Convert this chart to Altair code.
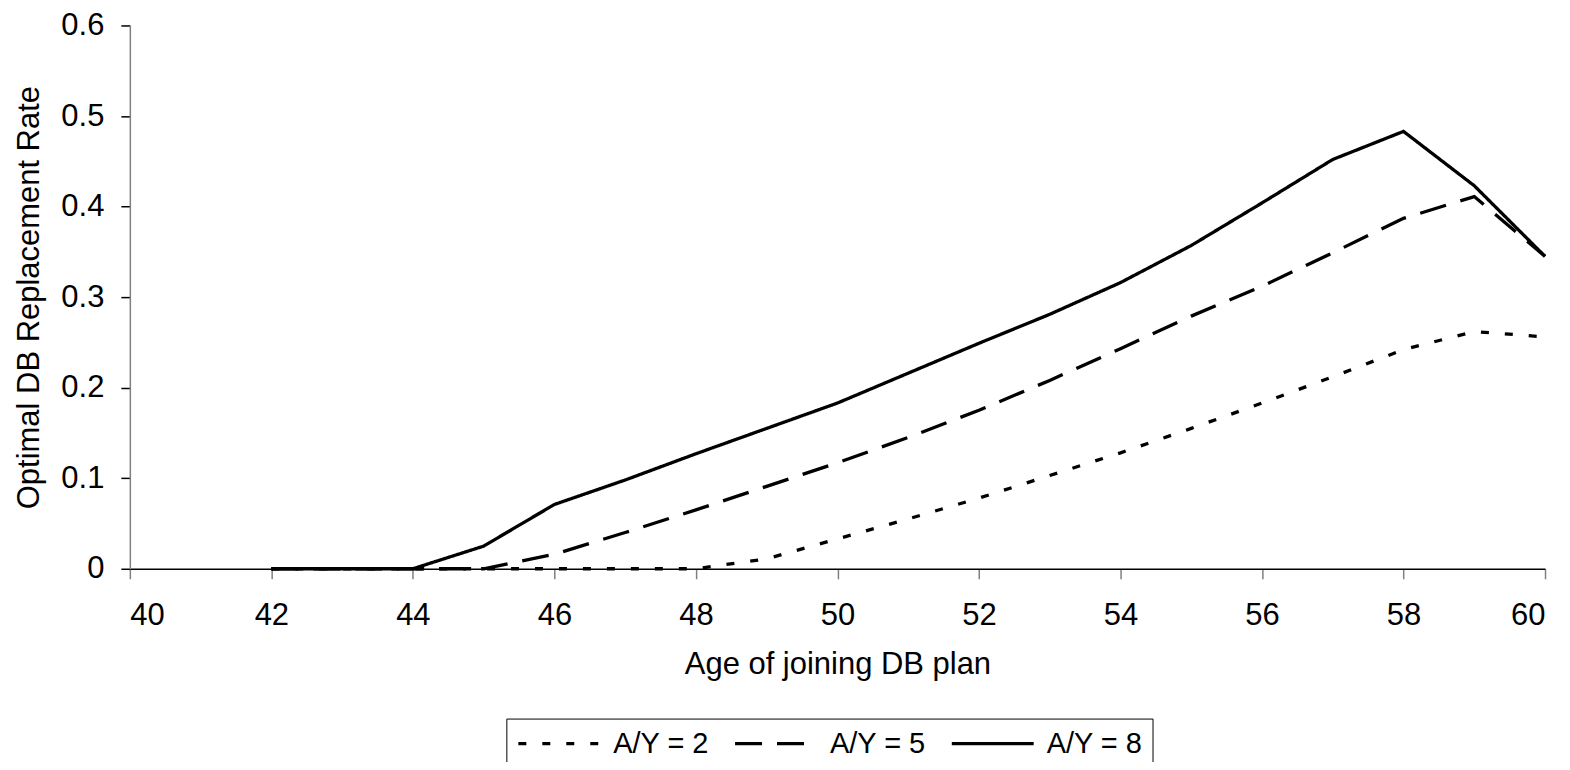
import altair as alt
import pandas as pd

ages = list(range(42, 61))
series_names = ["A/Y = 2", "A/Y = 5", "A/Y = 8"]
ay2 = [0, 0, 0, 0, 0, 0, 0, 0.011, 0.033, 0.055, 0.078, 0.103, 0.128, 0.155, 0.183, 0.212, 0.242, 0.262, 0.256]
ay5 = [0, 0, 0, 0, 0.016, 0.040, 0.065, 0.091, 0.117, 0.145, 0.175, 0.208, 0.243, 0.279, 0.312, 0.349, 0.387, 0.411, 0.345]
ay8 = [0, 0, 0, 0.025, 0.071, 0.098, 0.127, 0.155, 0.183, 0.216, 0.249, 0.281, 0.316, 0.357, 0.404, 0.452, 0.483, 0.423, 0.345]

rows = []
for name, vals in zip(series_names, [ay2, ay5, ay8]):
    for a, v in zip(ages, vals):
        rows.append({"age": a, "rate": v, "series": name})
df = pd.DataFrame(rows)

FONT = "Liberation Sans"

chart = alt.Chart(df).mark_line(strokeWidth=3.3, color="black").encode(
    x=alt.X("age:Q",
            scale=alt.Scale(domain=[40, 60], nice=False, zero=False),
            axis=alt.Axis(title="Age of joining DB plan", values=list(range(40, 61, 2)),
                          grid=False, domainColor="black", domainWidth=1.5,
                          tickColor="#808080", tickWidth=1.5, tickSize=10,
                          labelFontSize=31, labelFont=FONT, labelColor="black",
                          labelPadding=22, titleFontSize=31, titleFont=FONT,
                          titleFontWeight="normal", titleColor="black", titlePadding=19)),
    y=alt.Y("rate:Q",
            scale=alt.Scale(domain=[0, 0.6], nice=False),
            axis=alt.Axis(title="Optimal DB Replacement Rate", values=[0, 0.1, 0.2, 0.3, 0.4, 0.5, 0.6],
                          format=".1~f", grid=False, domainColor="#808080", domainWidth=1.5,
                          tickColor="black", tickWidth=1.5, tickSize=9,
                          labelFontSize=31, labelFont=FONT, labelColor="black",
                          labelPadding=17, titleFontSize=31, titleFont=FONT,
                          titleFontWeight="normal", titleColor="black", titlePadding=15)),
    strokeDash=alt.StrokeDash("series:N",
                              scale=alt.Scale(domain=series_names,
                                              range=[[8, 16], [27, 15], [1, 0]]),
                              legend=alt.Legend(title=None, orient="none", legendX=377, legendY=694,
                                                direction="horizontal", columns=3,
                                                symbolType="stroke", symbolSize=6724,
                                                symbolStrokeWidth=3.3, symbolStrokeColor="black",
                                                clipHeight=30,
                                                labelFontSize=29, labelFont=FONT, labelColor="black",
                                                labelOffset=11, columnPadding=24, padding=10,
                                                strokeColor="black", fillColor="white")),
    detail="series:N",
).properties(
    width=1417, height=544,
    autosize=alt.AutoSizeParams(type="none"),
    padding={"left": 122, "top": 17, "right": 17, "bottom": 193},
).configure_view(stroke=None)

chart.save("out.html", embed_options={"renderer": "svg", "actions": False})
